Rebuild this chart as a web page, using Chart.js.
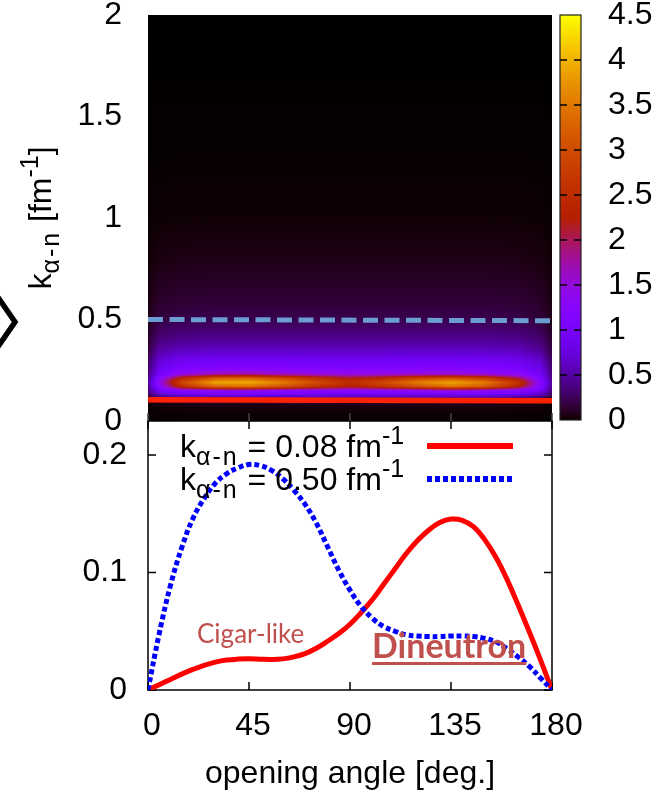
<!DOCTYPE html>
<html>
<head>
<meta charset="utf-8">
<script src="https://cdn.jsdelivr.net/npm/chart.js@4.4.0/dist/chart.umd.min.js"></script>
<style>
  html, body { margin: 0; padding: 0; background: #fff; }
  #wrap { position: relative; width: 656px; height: 793px; overflow: hidden; font-family: "Liberation Sans", Arial, sans-serif; }
  #main { position: absolute; left: 0; top: 0; }
  #cbar { position: absolute; left: 552px; top: 0; }
  .txt { position: absolute; white-space: nowrap; font-size: 32px; line-height: 32px; color: #000; }
  .txt sub, .txt sup { font-size: 25px; letter-spacing: 2px; line-height: 0; }
  .txt sub { vertical-align: -8px; }
  .txt sup { vertical-align: 13px; letter-spacing: 0; }
  #ytitle { left: 40px; top: 218px; transform: translate(-50%, -50%) rotate(-90deg); }
  .note { position: absolute; white-space: nowrap; font-family: Lato, "Open Sans", sans-serif; color: #c0504d; }
  #cigar { left: 197px; top: 620px; font-size: 26px; line-height: 26px; }
  #dineutron { left: 372px; top: 628px; font-size: 34px; line-height: 34px; font-weight: bold;
               text-decoration: underline; text-decoration-thickness: 3px; text-underline-offset: 4px; }
  #chevron { position: absolute; left: 0; top: 280px; }
</style>
</head>
<body>
<div id="wrap">
  <canvas id="main" width="656" height="793"></canvas>
  <canvas id="cbar" width="104" height="440"></canvas>
  <svg id="chevron" width="30" height="90"><polyline points="-5,13 15,42 -5,71" fill="none" stroke="#000" stroke-width="5.5"/></svg>
  <div class="txt" id="ytitle">k<sub>α-n</sub> [fm<sup>-1</sup>]</div>
  <div class="txt" style="left:180px; top:430px;">k<sub>α-n</sub> = 0.08 fm<sup>-1</sup></div>
  <div class="txt" style="left:180px; top:463px;">k<sub>α-n</sub> = 0.50 fm<sup>-1</sup></div>
  <div class="note" id="cigar">Cigar-like</div>
  <div class="note" id="dineutron">Dineutron</div>
</div>
<script>
const FONT = "'Liberation Sans', Arial, sans-serif";

// bottom panel: density vs opening angle
const angles = [0, 5, 10, 15, 20, 25, 30, 35, 40, 45, 50, 55, 60, 65, 70, 75, 80, 85, 90,
                95, 100, 105, 110, 115, 120, 125, 130, 135, 140, 145, 150, 155, 160, 165, 170, 175, 180];
const densK008 = [0, 0.0045, 0.009, 0.0135, 0.0175, 0.021, 0.0237, 0.0255, 0.0263, 0.0265, 0.0262, 0.026,
                  0.0265, 0.0282, 0.031, 0.0355, 0.0415, 0.048, 0.056, 0.066, 0.077, 0.090, 0.103, 0.116,
                  0.127, 0.136, 0.1425, 0.1455, 0.1445, 0.139, 0.128, 0.113, 0.094, 0.072, 0.049, 0.025, 0];
const densK050 = [0, 0.048, 0.089, 0.121, 0.146, 0.163, 0.176, 0.184, 0.189, 0.192, 0.191, 0.187, 0.180,
                  0.170, 0.158, 0.142, 0.122, 0.102, 0.085, 0.071, 0.061, 0.054, 0.050, 0.047, 0.046, 0.0455,
                  0.0455, 0.046, 0.046, 0.0455, 0.044, 0.041, 0.035, 0.028, 0.020, 0.010, 0];
const angleTicks = [0, 45, 90, 135, 180];

// cuts marked on the top panel
const cutAngles = [0, 180];
const cutK008 = [0.105, 0.100];
const cutK050 = [0.500, 0.494];

// top panel: density map over (angle, k)
const heatAngles = [0, 5, 15, 30, 45, 60, 75, 90, 105, 120, 135, 150, 165, 175, 180];
const heatK = [0, 0.04, 0.08, 0.11, 0.13, 0.15, 0.17, 0.19, 0.21, 0.23, 0.26, 0.30, 0.35, 0.40,
               0.50, 0.60, 0.80, 1.00, 1.30, 1.60, 2.00];
const heatValues = [
  [0.000, 0.002, 0.003, 0.003, 0.003, 0.003, 0.003, 0.003, 0.003, 0.003, 0.003, 0.003, 0.003, 0.002, 0.000],
  [0.003, 0.006, 0.010, 0.012, 0.012, 0.012, 0.012, 0.012, 0.012, 0.012, 0.012, 0.012, 0.010, 0.006, 0.003],
  [0.010, 0.025, 0.040, 0.050, 0.050, 0.050, 0.050, 0.050, 0.050, 0.050, 0.050, 0.050, 0.040, 0.025, 0.010],
  [0.08, 0.20, 0.30, 0.35, 0.35, 0.35, 0.34, 0.33, 0.34, 0.35, 0.35, 0.35, 0.30, 0.20, 0.08],
  [0.25, 0.60, 0.80, 0.90, 0.90, 0.88, 0.85, 0.85, 0.85, 0.88, 0.92, 0.88, 0.80, 0.60, 0.25],
  [0.35, 0.95, 1.25, 1.40, 1.40, 1.35, 1.30, 1.28, 1.30, 1.36, 1.50, 1.40, 1.22, 0.92, 0.35],
  [0.40, 1.25, 2.50, 3.30, 3.40, 3.05, 2.60, 2.25, 2.60, 3.05, 3.45, 3.15, 2.30, 1.15, 0.40],
  [0.45, 1.35, 2.95, 3.90, 3.95, 3.55, 3.00, 2.50, 2.95, 3.55, 3.90, 3.55, 2.65, 1.20, 0.45],
  [0.40, 1.25, 2.45, 3.25, 3.35, 3.00, 2.55, 2.20, 2.45, 2.90, 3.10, 2.80, 2.05, 1.05, 0.40],
  [0.35, 0.95, 1.45, 1.75, 1.80, 1.65, 1.55, 1.50, 1.52, 1.58, 1.62, 1.52, 1.32, 0.90, 0.35],
  [0.30, 0.85, 1.10, 1.15, 1.15, 1.15, 1.12, 1.10, 1.12, 1.15, 1.15, 1.12, 1.05, 0.80, 0.30],
  [0.25, 0.70, 0.88, 0.92, 0.92, 0.92, 0.90, 0.90, 0.90, 0.92, 0.92, 0.90, 0.85, 0.65, 0.25],
  [0.18, 0.50, 0.60, 0.63, 0.63, 0.63, 0.62, 0.62, 0.62, 0.63, 0.63, 0.62, 0.58, 0.45, 0.18],
  [0.13, 0.36, 0.43, 0.45, 0.45, 0.45, 0.45, 0.45, 0.45, 0.45, 0.45, 0.45, 0.42, 0.33, 0.13],
  [0.06, 0.18, 0.21, 0.22, 0.22, 0.22, 0.22, 0.22, 0.22, 0.22, 0.22, 0.22, 0.21, 0.16, 0.06],
  [0.04, 0.12, 0.14, 0.15, 0.15, 0.15, 0.15, 0.15, 0.15, 0.15, 0.15, 0.15, 0.14, 0.11, 0.04],
  [0.015, 0.045, 0.055, 0.06, 0.06, 0.06, 0.06, 0.06, 0.06, 0.06, 0.06, 0.06, 0.055, 0.04, 0.015],
  [0.004, 0.012, 0.014, 0.015, 0.015, 0.015, 0.015, 0.015, 0.015, 0.015, 0.015, 0.015, 0.014, 0.011, 0.004],
  [0.001, 0.003, 0.004, 0.004, 0.004, 0.004, 0.004, 0.004, 0.004, 0.004, 0.004, 0.004, 0.004, 0.003, 0.001],
  [0, 0.001, 0.001, 0.001, 0.001, 0.001, 0.001, 0.001, 0.001, 0.001, 0.001, 0.001, 0.001, 0.001, 0],
  [0, 0, 0, 0, 0, 0, 0, 0, 0, 0, 0, 0, 0, 0, 0]
];
const cbMin = 0, cbMax = 4.5;

// gnuplot default pm3d palette (rgbformulae 7,5,15)
function palette(v) {
  const x = Math.min(Math.max((v - cbMin) / (cbMax - cbMin), 0), 1);
  const r = Math.sqrt(x), g = x * x * x, b = Math.max(0, Math.sin(2 * Math.PI * x));
  return [r * 255, g * 255, b * 255];
}

function bracket(arr, v) {
  let i = 0;
  while (i < arr.length - 2 && v > arr[i + 1]) i++;
  const f = Math.min(Math.max((v - arr[i]) / (arr[i + 1] - arr[i]), 0), 1);
  return [i, f];
}

function heatAt(t, k) {
  const [i, fx] = bracket(heatAngles, t);
  const [j, fy] = bracket(heatK, k);
  const a = heatValues[j][i] * (1 - fx) + heatValues[j][i + 1] * fx;
  const b = heatValues[j + 1][i] * (1 - fx) + heatValues[j + 1][i + 1] * fx;
  return a * (1 - fy) + b * fy;
}

const heatmapPlugin = {
  id: "heatmap",
  beforeDatasetsDraw(chart) {
    const x = chart.scales.x, y = chart.scales.yTop;
    const left = Math.round(x.left), top = Math.round(y.top);
    const w = Math.round(x.right) - left, h = Math.round(y.bottom) - top;
    const off = document.createElement("canvas");
    off.width = w; off.height = h;
    const octx = off.getContext("2d");
    const img = octx.createImageData(w, h);
    for (let j = 0; j < h; j++) {
      const k = y.getValueForPixel(top + j + 0.5);
      for (let i = 0; i < w; i++) {
        const t = x.getValueForPixel(left + i + 0.5);
        const c = palette(heatAt(t, k));
        const p = (j * w + i) * 4;
        img.data[p] = c[0]; img.data[p + 1] = c[1]; img.data[p + 2] = c[2]; img.data[p + 3] = 255;
      }
    }
    octx.putImageData(img, 0, 0);
    chart.ctx.drawImage(off, left, top);
  }
};

const framePlugin = {
  id: "frames",
  beforeDatasetsDraw(chart) {
    const ctx = chart.ctx, x = chart.scales.x, yb = chart.scales.yBot, yt = chart.scales.yTop;
    const tick = 8;
    ctx.save();
    ctx.lineWidth = 1.5;
    ctx.strokeStyle = "#000";
    ctx.strokeRect(x.left, yb.top, x.right - x.left, yb.bottom - yb.top);
    ctx.beginPath();
    x.ticks.forEach(t => {
      const px = x.getPixelForValue(t.value);
      ctx.moveTo(px, yb.bottom); ctx.lineTo(px, yb.bottom - tick);
      ctx.moveTo(px, yb.top); ctx.lineTo(px, yb.top + tick);
    });
    yb.ticks.forEach(t => {
      const py = yb.getPixelForValue(t.value);
      ctx.moveTo(x.left, py); ctx.lineTo(x.left + tick, py);
      ctx.moveTo(x.right, py); ctx.lineTo(x.right - tick, py);
    });
    ctx.stroke();
    ctx.strokeStyle = "#444";
    ctx.beginPath();
    x.ticks.forEach(t => {
      const px = x.getPixelForValue(t.value);
      ctx.moveTo(px, yt.bottom); ctx.lineTo(px, yt.bottom - tick);
    });
    ctx.stroke();
    ctx.restore();
  }
};

// legend line samples, styled from the datasets
const legendPlugin = {
  id: "sampleLines",
  afterDatasetsDraw(chart) {
    const ctx = chart.ctx;
    const rows = [{ ds: chart.data.datasets[0], y: 446 }, { ds: chart.data.datasets[1], y: 479 }];
    ctx.save();
    rows.forEach(r => {
      ctx.strokeStyle = r.ds.borderColor;
      ctx.lineWidth = r.ds.borderWidth + 1;
      ctx.setLineDash(r.ds.borderDash || []);
      ctx.beginPath();
      ctx.moveTo(427, r.y);
      ctx.lineTo(513, r.y);
      ctx.stroke();
    });
    ctx.restore();
  }
};

const tickFont = { family: FONT, size: 32 };
const fmt = v => String(+Number(v).toFixed(3));
const pts = (xs, ys) => xs.map((a, i) => ({ x: a, y: ys[i] }));

new Chart(document.getElementById("main"), {
  type: "line",
  data: {
    datasets: [
      { data: pts(angles, densK008), yAxisID: "yBot", borderColor: "#ff0000", borderWidth: 5,
        pointRadius: 0, tension: 0.4, order: 2 },
      { data: pts(angles, densK050), yAxisID: "yBot", borderColor: "#0000ff", borderWidth: 5,
        borderDash: [5, 3], pointRadius: 0, tension: 0.4, order: 1 },
      { data: pts(cutAngles, cutK008), yAxisID: "yTop", borderColor: "#ff2200", borderWidth: 5.5,
        pointRadius: 0, order: 0 },
      { data: pts(cutAngles, cutK050), yAxisID: "yTop", borderColor: "#6b9dd3", borderWidth: 5,
        borderDash: [15, 6.5], pointRadius: 0, order: 0 }
    ]
  },
  options: {
    responsive: false,
    animation: false,
    layout: { padding: { left: 0, top: 15, right: 104, bottom: 0 } },
    plugins: { legend: { display: false }, tooltip: { enabled: false } },
    scales: {
      x: {
        type: "linear", position: "bottom", min: 0, max: 180,
        afterBuildTicks: s => { s.ticks = angleTicks.map(v => ({ value: v })); },
        ticks: { padding: 17, labelOffset: 4, color: "#000", font: tickFont, maxRotation: 0, autoSkip: false, callback: fmt },
        grid: { display: false, drawTicks: false },
        border: { display: false },
        title: { display: true, text: "opening angle [deg.]", color: "#000", font: tickFont, padding: { top: 0, bottom: 0 } },
        afterFit: s => { s.height = 103; s.paddingLeft = 0; s.paddingRight = 0; }
      },
      yTop: {
        type: "linear", position: "left", stack: "panels", stackWeight: 406, weight: 1,
        min: 0, max: 2,
        ticks: { stepSize: 0.5, padding: 26, color: "#000", font: tickFont, callback: fmt },
        grid: { display: false, drawTicks: false },
        border: { display: false },
        afterFit: s => { s.width = 148; s.paddingTop = 0; s.paddingBottom = 0; }
      },
      yBot: {
        type: "linear", position: "left", stack: "panels", stackWeight: 269, weight: 0,
        min: 0, max: 0.229,
        ticks: { stepSize: 0.1, includeBounds: false, padding: 21, color: "#000", font: tickFont, callback: fmt },
        grid: { display: false, drawTicks: false },
        border: { display: false },
        afterFit: s => { s.width = 148; s.paddingTop = 0; s.paddingBottom = 0; }
      }
    }
  },
  plugins: [heatmapPlugin, framePlugin, legendPlugin]
});

// colour box
const colorbarPlugin = {
  id: "colorbar",
  beforeDatasetsDraw(chart) {
    const ctx = chart.ctx, y = chart.scales.y, a = chart.chartArea;
    ctx.save();
    for (let py = Math.round(a.top); py < Math.round(a.bottom); py++) {
      const c = palette(y.getValueForPixel(py + 0.5));
      ctx.fillStyle = `rgb(${c[0]},${c[1]},${c[2]})`;
      ctx.fillRect(a.left, py, a.right - a.left, 1);
    }
    ctx.strokeStyle = "#222";
    ctx.lineWidth = 1.2;
    ctx.strokeRect(a.left, a.top, a.right - a.left, a.bottom - a.top);
    ctx.strokeStyle = "#000";
    ctx.lineWidth = 1.5;
    ctx.beginPath();
    y.ticks.forEach(t => {
      const py = y.getPixelForValue(t.value);
      if (t.value <= cbMin || t.value >= cbMax) return;
      ctx.moveTo(a.left, py); ctx.lineTo(a.left + 7, py);
      ctx.moveTo(a.right, py); ctx.lineTo(a.right - 7, py);
    });
    ctx.stroke();
    ctx.restore();
  }
};

new Chart(document.getElementById("cbar"), {
  type: "scatter",
  data: { datasets: [] },
  options: {
    responsive: false,
    animation: false,
    layout: { padding: { left: 8, top: 15, right: 0, bottom: 20 } },
    plugins: { legend: { display: false }, tooltip: { enabled: false } },
    scales: {
      x: { display: false },
      y: {
        position: "right", min: cbMin, max: cbMax,
        ticks: { stepSize: 0.5, padding: 27, color: "#000", font: tickFont, callback: fmt },
        grid: { display: false, drawTicks: false },
        border: { display: false },
        afterFit: s => { s.width = 75; s.paddingTop = 0; s.paddingBottom = 0; }
      }
    }
  },
  plugins: [colorbarPlugin]
});
</script>
</body>
</html>
